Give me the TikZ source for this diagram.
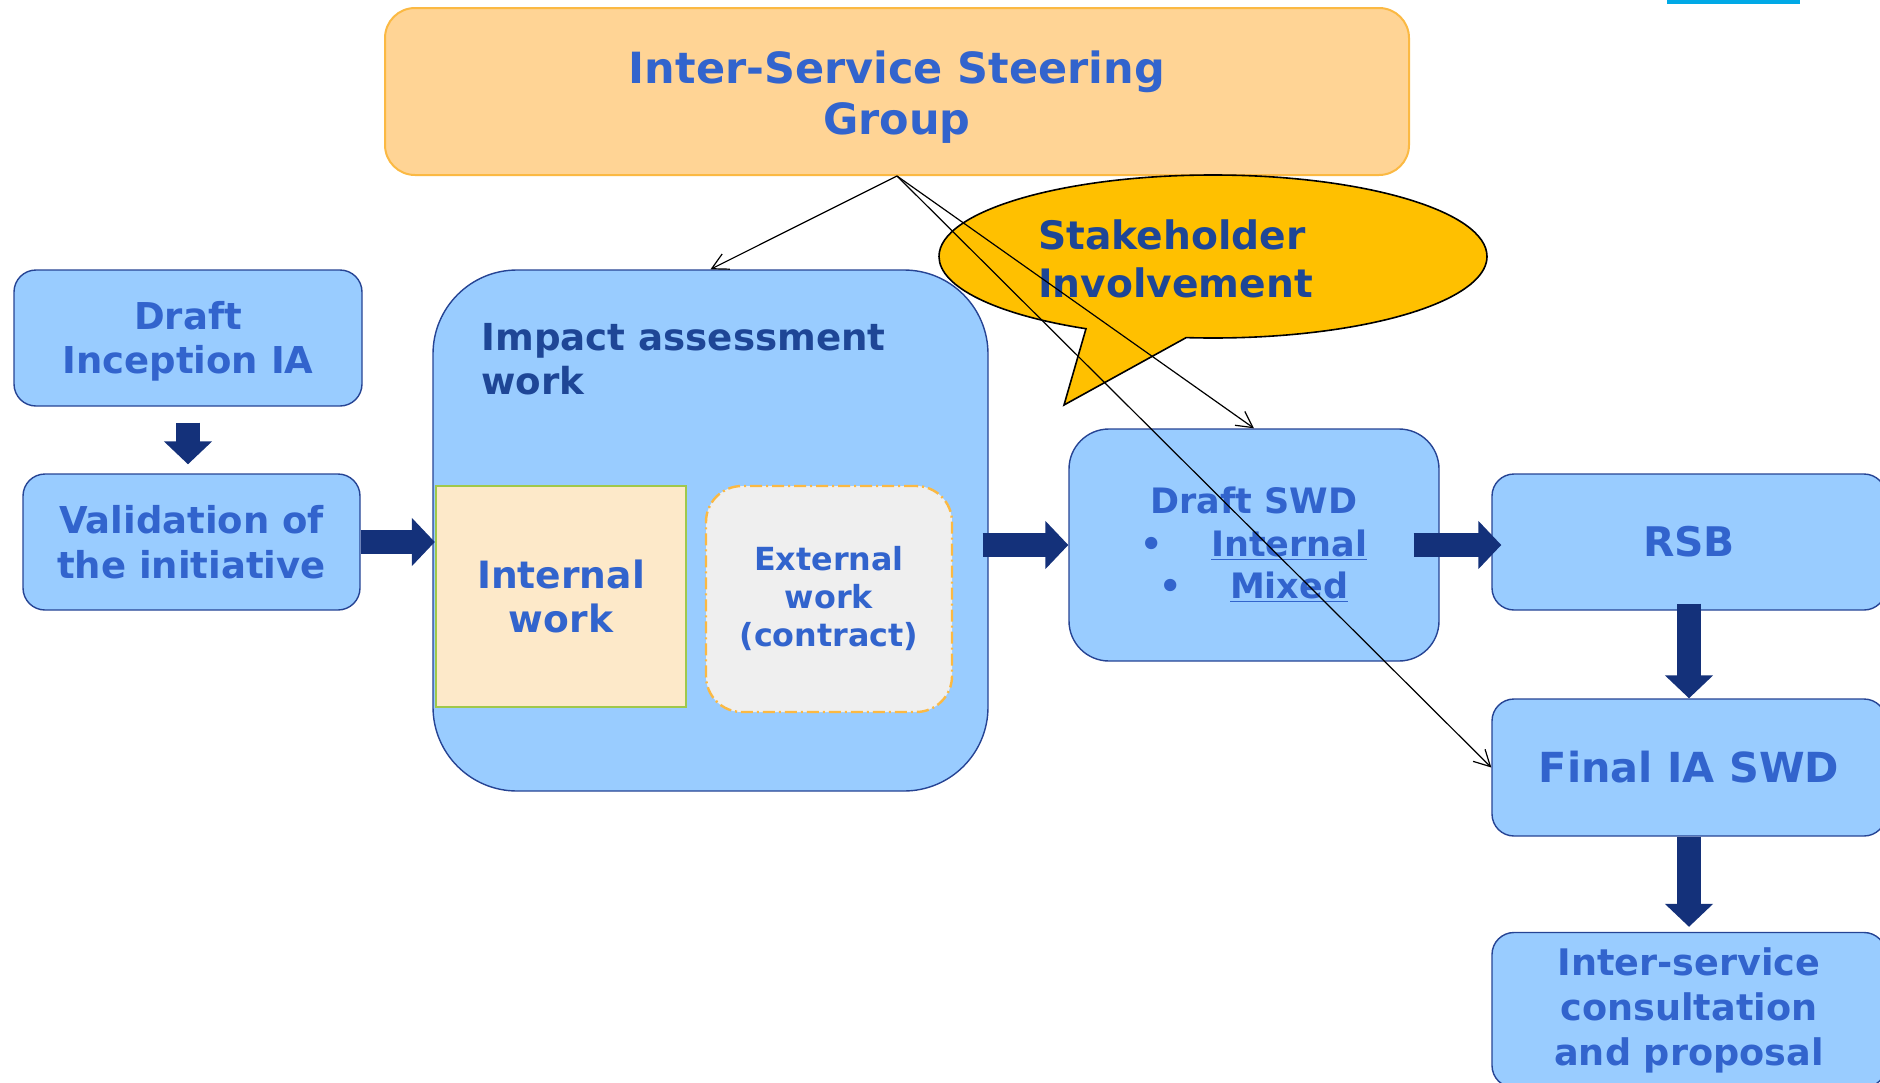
\documentclass[tikz,border=0pt]{standalone}
\usepackage{fontspec}
\setmainfont{DejaVu Sans}
\usetikzlibrary{arrows.meta,shapes.callouts}

\definecolor{boxfill}{RGB}{153,204,255}
\definecolor{boxline}{RGB}{38,68,148}
\definecolor{txtblue}{RGB}{50,100,205}
\definecolor{txtdark}{RGB}{30,70,150}
\definecolor{navy}{RGB}{20,49,122}
\definecolor{groupfill}{RGB}{255,212,149}
\definecolor{groupline}{RGB}{251,185,67}
\definecolor{calloutfill}{RGB}{255,192,0}
\definecolor{peach}{RGB}{253,233,201}
\definecolor{leaf}{RGB}{160,200,75}
\definecolor{lightgrey}{RGB}{239,239,239}
\definecolor{barcyan}{RGB}{0,169,230}

\begin{document}
\begin{tikzpicture}[x=0.5pt,y=-0.5pt,
    every node/.style={text=txtblue, align=center, inner sep=0pt},
    flowbox/.style={draw=boxline, fill=boxfill, rounded corners=11pt, line width=0.7pt},
    bigarrow/.style={navy, line width=12pt, -{Triangle[length=11.5pt,width=23.5pt]}},
    linkarrow/.style={line width=0.6pt, -{Straight Barb[length=8pt,width=8.5pt]}}]
  \useasboundingbox (0,0) rectangle (1880,1082);
  \clip (0,0) rectangle (1880,1082);
  \fill[barcyan] (1667,0) rectangle (1800,4);

  % steering group on top
  \node[draw=groupline, fill=groupfill, line width=1pt, rounded corners=15pt,
        minimum width=512pt, minimum height=83.5pt] (issg) at (897,91.5) {};
  \node[font=\fontsize{21.5}{25.75}\selectfont\bfseries] (issgtext) at (897,97) {Inter-Service Steering\\Group};

  % left column
  \node[flowbox, minimum width=174pt, minimum height=68pt] (draft) at (188,338) {};
  \node[font=\fontsize{18.5}{22}\selectfont\bfseries] (drafttext) at (188,341) {Draft\\Inception IA};
  \node[flowbox, minimum width=168.5pt, minimum height=68pt,
        font=\fontsize{18.5}{22.5}\selectfont\bfseries] (valid) at (191.5,542) {Validation of\\the initiative};

  % impact assessment work
  \node[flowbox, rounded corners=42pt, minimum width=277.5pt, minimum height=260.5pt] (ia) at (710.5,530.5) {};
  \node[anchor=west, align=left, text=txtdark,
        font=\fontsize{18.6}{22}\selectfont\bfseries] (iatitle) at (481,359) {Impact assessment\\work};
  \node[draw=leaf, fill=peach, line width=1.2pt, minimum width=125pt, minimum height=110.5pt,
        font=\fontsize{18.8}{22}\selectfont\bfseries] (intwork) at (561,596.5) {Internal\\work};
  \node[draw=groupline, fill=lightgrey, line width=1.2pt, rounded corners=18pt,
        dash pattern=on 6pt off 2pt on 1pt off 2pt, minimum width=123pt, minimum height=113pt,
        font=\fontsize{15.9}{19}\selectfont\bfseries] (extwork) at (829,599) {External\\work\\(contract)};

  % stakeholders
  \node[ellipse callout, draw, fill=calloutfill, line width=0.8pt, minimum width=274pt, minimum height=81.5pt,
        callout absolute pointer={(1064,405)}, callout pointer arc=22] (stake) at (1213,256.5) {};
  \node[anchor=west, align=left, text=txtdark,
        font=\fontsize{19.6}{24}\selectfont\bfseries] (staketext) at (1038,259) {Stakeholder\\Involvement};

  % drafts and final steps
  \node[flowbox, rounded corners=20pt, minimum width=185pt, minimum height=116pt,
        font=\fontsize{17.5}{21.25}\selectfont\bfseries] (swd) at (1254,545)
        {Draft SWD\\•\hspace{24pt}\underline{Internal}\\•\hspace{24pt}\underline{Mixed}};
  \node[flowbox, minimum width=197pt, minimum height=68pt,
        font=\fontsize{20.4}{24}\selectfont\bfseries] (rsb) at (1689,542) {RSB};
  \node[flowbox, minimum width=197pt, minimum height=68.5pt,
        font=\fontsize{20.7}{24}\selectfont\bfseries] (final) at (1689,767.5) {Final IA SWD};
  \node[flowbox, minimum width=197pt, minimum height=77.5pt,
        font=\fontsize{18.3}{22.5}\selectfont\bfseries] (isc) at (1689,1010) {Inter-service\\consultation\\and proposal};

  % flow
  \draw[bigarrow] ([yshift=-8pt]draft.south) -- ([yshift=4.5pt]valid.north -| draft.south);
  \draw[bigarrow] (valid.east) -- (valid.east -| intwork.west);
  \draw[bigarrow] ([xshift=-3pt]ia.east |- swd.west) -- (swd.west);
  \draw[bigarrow] ([xshift=-13pt]swd.east) -- ([xshift=5pt]rsb.west |- swd.east);
  \draw[bigarrow] ([yshift=3.5pt]rsb.south) -- (final.north);
  \draw[bigarrow] (final.south) -- ([yshift=2.5pt]isc.north);

  % steering group links
  \draw[linkarrow] (issg.south) -- (ia.north);
  \draw[linkarrow] (issg.south) -- (swd.north);
  \draw[linkarrow] (issg.south) -- (final.west);
\end{tikzpicture}
\end{document}
